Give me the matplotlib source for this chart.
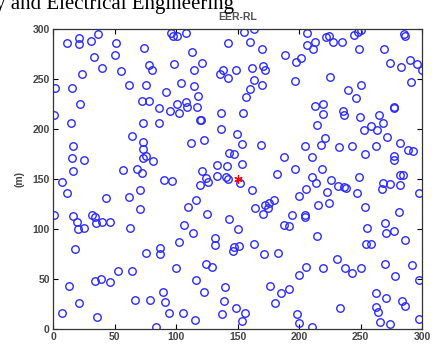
import matplotlib
matplotlib.use("Agg")
import matplotlib.pyplot as plt

# Posiciones de los nodos (m)
nodos_x = [
    11.4, 20.7, 21.3, 30.8, 36.5, 51.0, 49.9, 33.0, 39.8, 55.3, 23.2, 1.6, 15.5, 21.8, 0.3,
    14.7, 16.3, 15.5, 16.3, 25.3, 7.1, 57.0, 64.3, 61.6, 73.6, 77.9, 80.7, 75.2, 72.5, 78.2,
    85.8, 72.8, 86.4, 72.8, 72.8, 72.8, 75.7, 81.2, 68.1, 72.2, 90.2, 96.5, 92.1, 95.1, 100.8,
    102.5, 103.5, 98.4, 95.4, 97.3, 100.8, 108.2, 113.1, 114.4, 121.3, 114.4, 118.0, 107.9, 108.7, 117.2,
    119.5, 120.3, 122.9, 111.7, 135.5, 136.5, 136.5, 133.3, 133.5, 121.3, 124.4, 126.0, 119.6,
    155.3, 163.4, 142.3, 159.7, 169.7, 188.9, 197.6, 201.6, 206.3, 206.3, 212.8, 211.4, 221.5, 224.7, 227.4,
    234.5, 244.7, 248.0, 250.2, 248.8, 269.1, 285.1, 286.2, 273.7, 283.2, 290.0, 296.0, 299.8, 290.8, 225.5,
    196.3, 250.7, 239.6, 245.9, 277.2, 277.4, 219.8, 213.0, 219.3, 236.1, 236.9, 249.6, 265.4, 258.5, 252.8,
    263.2, 268.6, 271.9, 281.9, 288.4, 293.0, 277.2, 277.5, 282.4, 284.3, 282.1, 268.6, 274.3, 254.0, 262.9,
    243.4, 232.8, 217.6, 220.7, 214.6, 205.2, 210.1, 218.5, 196.5, 188.1, 181.9, 210.9, 214.1, 226.0, 249.1,
    168.6, 153.4, 149.1, 153.7, 143.1, 147.2, 141.2, 140.4, 142.0, 151.8, 154.0, 156.4, 159.7, 169.7, 163.7,
    142.3, 138.2, 148.3, 161.5, 170.5, 172.4,
    10.8, 0.3, 16.3, 19.5, 19.8, 25.2, 17.9, 31.4, 33.9, 34.4, 39.8, 46.1, 42.8, 61.8, 62.1,
    70.2, 70.2, 33.9, 38.5, 46.1, 52.8, 64.0, 75.1, 86.7, 87.0, 12.7, 20.6, 6.8, 35.8, 66.1,
    78.6, 89.4, 91.1, 94.0, 83.2, 105.4, 99.5, 102.2, 106.2, 109.2, 116.3, 113.8, 125.2, 131.4, 131.2,
    124.4, 129.0, 116.0, 122.8, 114.9,
    161.5, 206.0, 200.0, 222.3, 231.7, 236.6, 238.5, 224.4, 215.2, 247.2, 254.0, 267.6, 297.6, 281.0, 269.9,
    271.0, 277.0, 286.2, 255.3, 254.5, 258.5, 214.6, 204.6, 204.9, 194.1, 188.1, 191.4, 179.2, 175.4, 172.4,
    174.6, 170.5, 164.2, 143.1, 150.4, 146.7, 145.9, 150.7, 162.9, 171.3, 182.9, 205.7, 200.3, 219.3, 230.7,
    237.7, 243.4, 250.2, 269.9, 291.6, 297.6, 277.8, 176.7, 184.9, 191.9, 180.5, 139.8, 138.5, 148.5, 137.4,
    156.1, 153.4, 198.4, 200.3, 210.9, 233.3, 262.4, 271.0, 262.4, 264.6, 266.2, 274.0, 283.7, 285.9, 297.3,
]
nodos_y = [
    286.3, 291.3, 284.7, 288.3, 294.7, 285.7, 273.7, 271.7, 261.3, 258.3, 255.3, 241.0, 241.0, 225.0, 213.7,
    206.0, 183.0, 171.3, 158.0, 169.0, 147.0, 159.3, 193.3, 244.3, 281.3, 264.0, 259.0, 243.7, 227.7, 227.7,
    220.7, 205.7, 206.0, 187.3, 179.7, 171.3, 173.0, 168.0, 160.3, 156.3, 148.7, 148.0, 237.3, 218.3, 225.0,
    216.3, 245.7, 264.7, 295.7, 293.0, 293.0, 296.3, 277.0, 259.3, 265.7, 243.3, 233.0, 227.0, 222.3, 222.3,
    209.3, 209.3, 189.0, 186.3, 255.2, 216.3, 200.5, 164.5, 153.2, 158.3, 150.8, 147.0, 143.6,
    297.0, 300.0, 285.7, 286.7, 279.7, 274.3, 267.3, 270.7, 296.3, 284.0, 287.3, 279.7, 292.3, 293.3, 287.0,
    286.7, 294.3, 297.3, 299.0, 280.3, 280.3, 294.7, 292.7, 265.7, 262.0, 269.0, 265.3, 259.0, 247.0, 252.3,
    248.3, 244.3, 239.0, 231.0, 222.3, 221.2, 225.0, 223.3, 215.3, 218.0, 213.7, 211.7, 213.7, 203.3, 198.7,
    198.7, 205.7, 192.0, 186.3, 178.7, 178.0, 172.7, 168.7, 154.0, 153.7, 144.3, 146.3, 144.7, 174.7, 183.0,
    183.0, 182.3, 183.7, 191.3, 204.0, 183.0, 172.0, 159.7, 159.7, 172.3, 155.0, 152.3, 146.3, 149.0, 152.3,
    184.0, 184.7, 195.0, 165.3, 175.7, 175.0, 162.7, 152.3, 149.7, 146.3, 216.3, 232.0, 240.0, 243.7, 248.7,
    250.7, 258.7, 259.0, 261.3, 263.0, 259.0,
    135.7, 113.7, 113.0, 107.3, 100.3, 101.3, 80.3, 114.0, 112.3, 106.3, 106.7, 107.3, 131.3, 132.0, 101.3,
    139.0, 119.7, 47.7, 50.3, 46.7, 58.3, 58.3, 75.7, 81.0, 75.0, 42.7, 25.7, 16.0, 12.0, 28.7,
    28.7, 37.0, 26.7, 16.0, 2.3, 16.0, 61.0, 86.7, 103.7, 122.3, 129.3, 96.0, 114.7, 91.3, 84.0,
    65.3, 61.7, 48.7, 37.3, 9.3,
    139.0, 139.7, 133.0, 137.3, 143.0, 142.3, 140.7, 125.7, 124.3, 135.7, 122.3, 140.0, 136.3, 117.3, 105.7,
    95.7, 98.0, 89.3, 101.3, 84.7, 85.3, 92.7, 113.7, 111.7, 113.7, 104.3, 103.3, 129.3, 126.3, 124.0,
    121.0, 114.7, 120.7, 110.3, 99.7, 82.0, 78.0, 83.0, 84.7, 75.0, 75.7, 62.3, 53.7, 61.0, 69.7,
    60.7, 55.7, 61.0, 65.3, 64.3, 49.0, 53.3, 42.7, 36.0, 39.7, 25.7, 42.3, 27.7, 20.7, 14.7,
    16.0, 8.3, 15.0, 5.7, 2.3, 21.0, 36.0, 31.3, 21.7, 17.3, 6.7, 4.7, 27.7, 23.0, 10.0,
]

# Estacion base
base_x = [150]
base_y = [150]

ticks = [0, 50, 100, 150, 200, 250, 300]
gris = "#454545"

fig = plt.figure(figsize=(4.33, 3.49), dpi=100)
ax = fig.add_axes([53.3 / 433, 1 - 329 / 349, (422 - 53.3) / 433, 300 / 349])

ax.plot(nodos_x, nodos_y, linestyle="none", marker="o", markersize=5.4,
        markerfacecolor="none", markeredgecolor="#2a2aff", markeredgewidth=1.0)
ax.plot(base_x, base_y, linestyle="none", marker=(6, 2, 0), markersize=6,
        markeredgecolor="red", markeredgewidth=0.9)

ax.set_xlim(0, 300)
ax.set_ylim(0, 300)
ax.set_xticks(ticks)
ax.set_yticks(ticks)
ax.tick_params(direction="in", top=True, right=True, length=3.5, width=0.8,
               labelsize=7.5, labelcolor=gris, pad=2.5)
for lab in ax.get_xticklabels() + ax.get_yticklabels():
    lab.set_fontweight("bold")
    lab.set_family("Liberation Sans")
for s in ax.spines.values():
    s.set_linewidth(0.9)
    s.set_color("#333333")

ax.set_ylabel("(m)", fontsize=7.5, color=gris, fontweight="bold",
              family="Liberation Sans", labelpad=6)

fig.text(237.5 / 433, 1 - 20.5 / 349, "EER-RL", ha="center", va="baseline",
         fontsize=7.5, color="#505050", fontweight="bold", family="Liberation Sans")

# Texto de la pagina recortado arriba
fig.text(-5 / 433, 1 - 8.5 / 349, "y and Electrical Engineering", ha="left", va="baseline",
         fontsize=15, color="black", family="Liberation Serif")

fig.savefig("out.png", dpi=100)
